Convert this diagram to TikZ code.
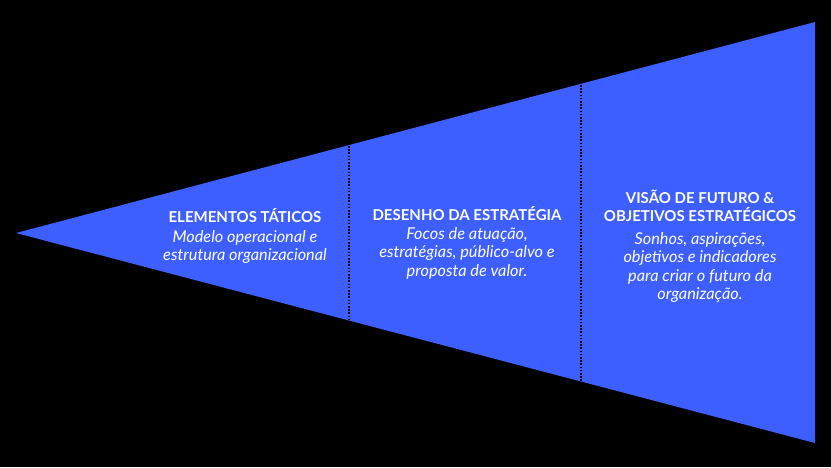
\documentclass[tikz,border=0pt]{standalone}
\usepackage{fontspec}
\setmainfont{Lato}
\begin{document}
\begin{tikzpicture}[x=1pt,y=-1pt,
  ttl/.style={font=\bfseries\fontsize{15}{18}\selectfont,text=white,align=center,inner sep=0pt},
  body/.style={font=\itshape\fontsize{16.3}{18.5}\selectfont,text=white,align=center,inner sep=0pt},
  sep/.style={draw=black,line width=1.6pt,dash pattern=on 1.6pt off 1.6pt}]
\definecolor{fun}{HTML}{3D5FFF}
\fill[black] (0,0) rectangle (831,467);
\useasboundingbox (0,0) rectangle (831,467);
\coordinate (L) at (16,233);
\coordinate (RT) at (815,22);
\coordinate (RB) at (815,443);
\fill[fun] (L) -- (RT) -- (RB) -- cycle;
\coordinate (a1) at (349,146); \coordinate (a2) at (349,320);
\coordinate (b1) at (581,85); \coordinate (b2) at (581,381);
\draw[sep] (a1) -- (a2);
\draw[sep] (b1) -- (b2);
\node[ttl] (t1) at (245,216) {ELEMENTOS TÁTICOS};
\node[body,anchor=north] (d1) at (245,230) {Modelo operacional e\\estrutura organizacional};
\node[ttl] (t2) at (467,214) {DESENHO DA ESTRATÉGIA};
\node[body,anchor=north] (d2) at (467,227) {Focos de atuação,\\estratégias, público-alvo e\\proposta de valor.};
\node[ttl] (t3) at (700,206) {VISÃO DE FUTURO \&\\OBJETIVOS ESTRATÉGICOS};
\node[body,anchor=north] (d3) at (700,232) {Sonhos, aspirações,\\objetivos e indicadores\\para criar o futuro da\\organização.};
\end{tikzpicture}
\end{document}
